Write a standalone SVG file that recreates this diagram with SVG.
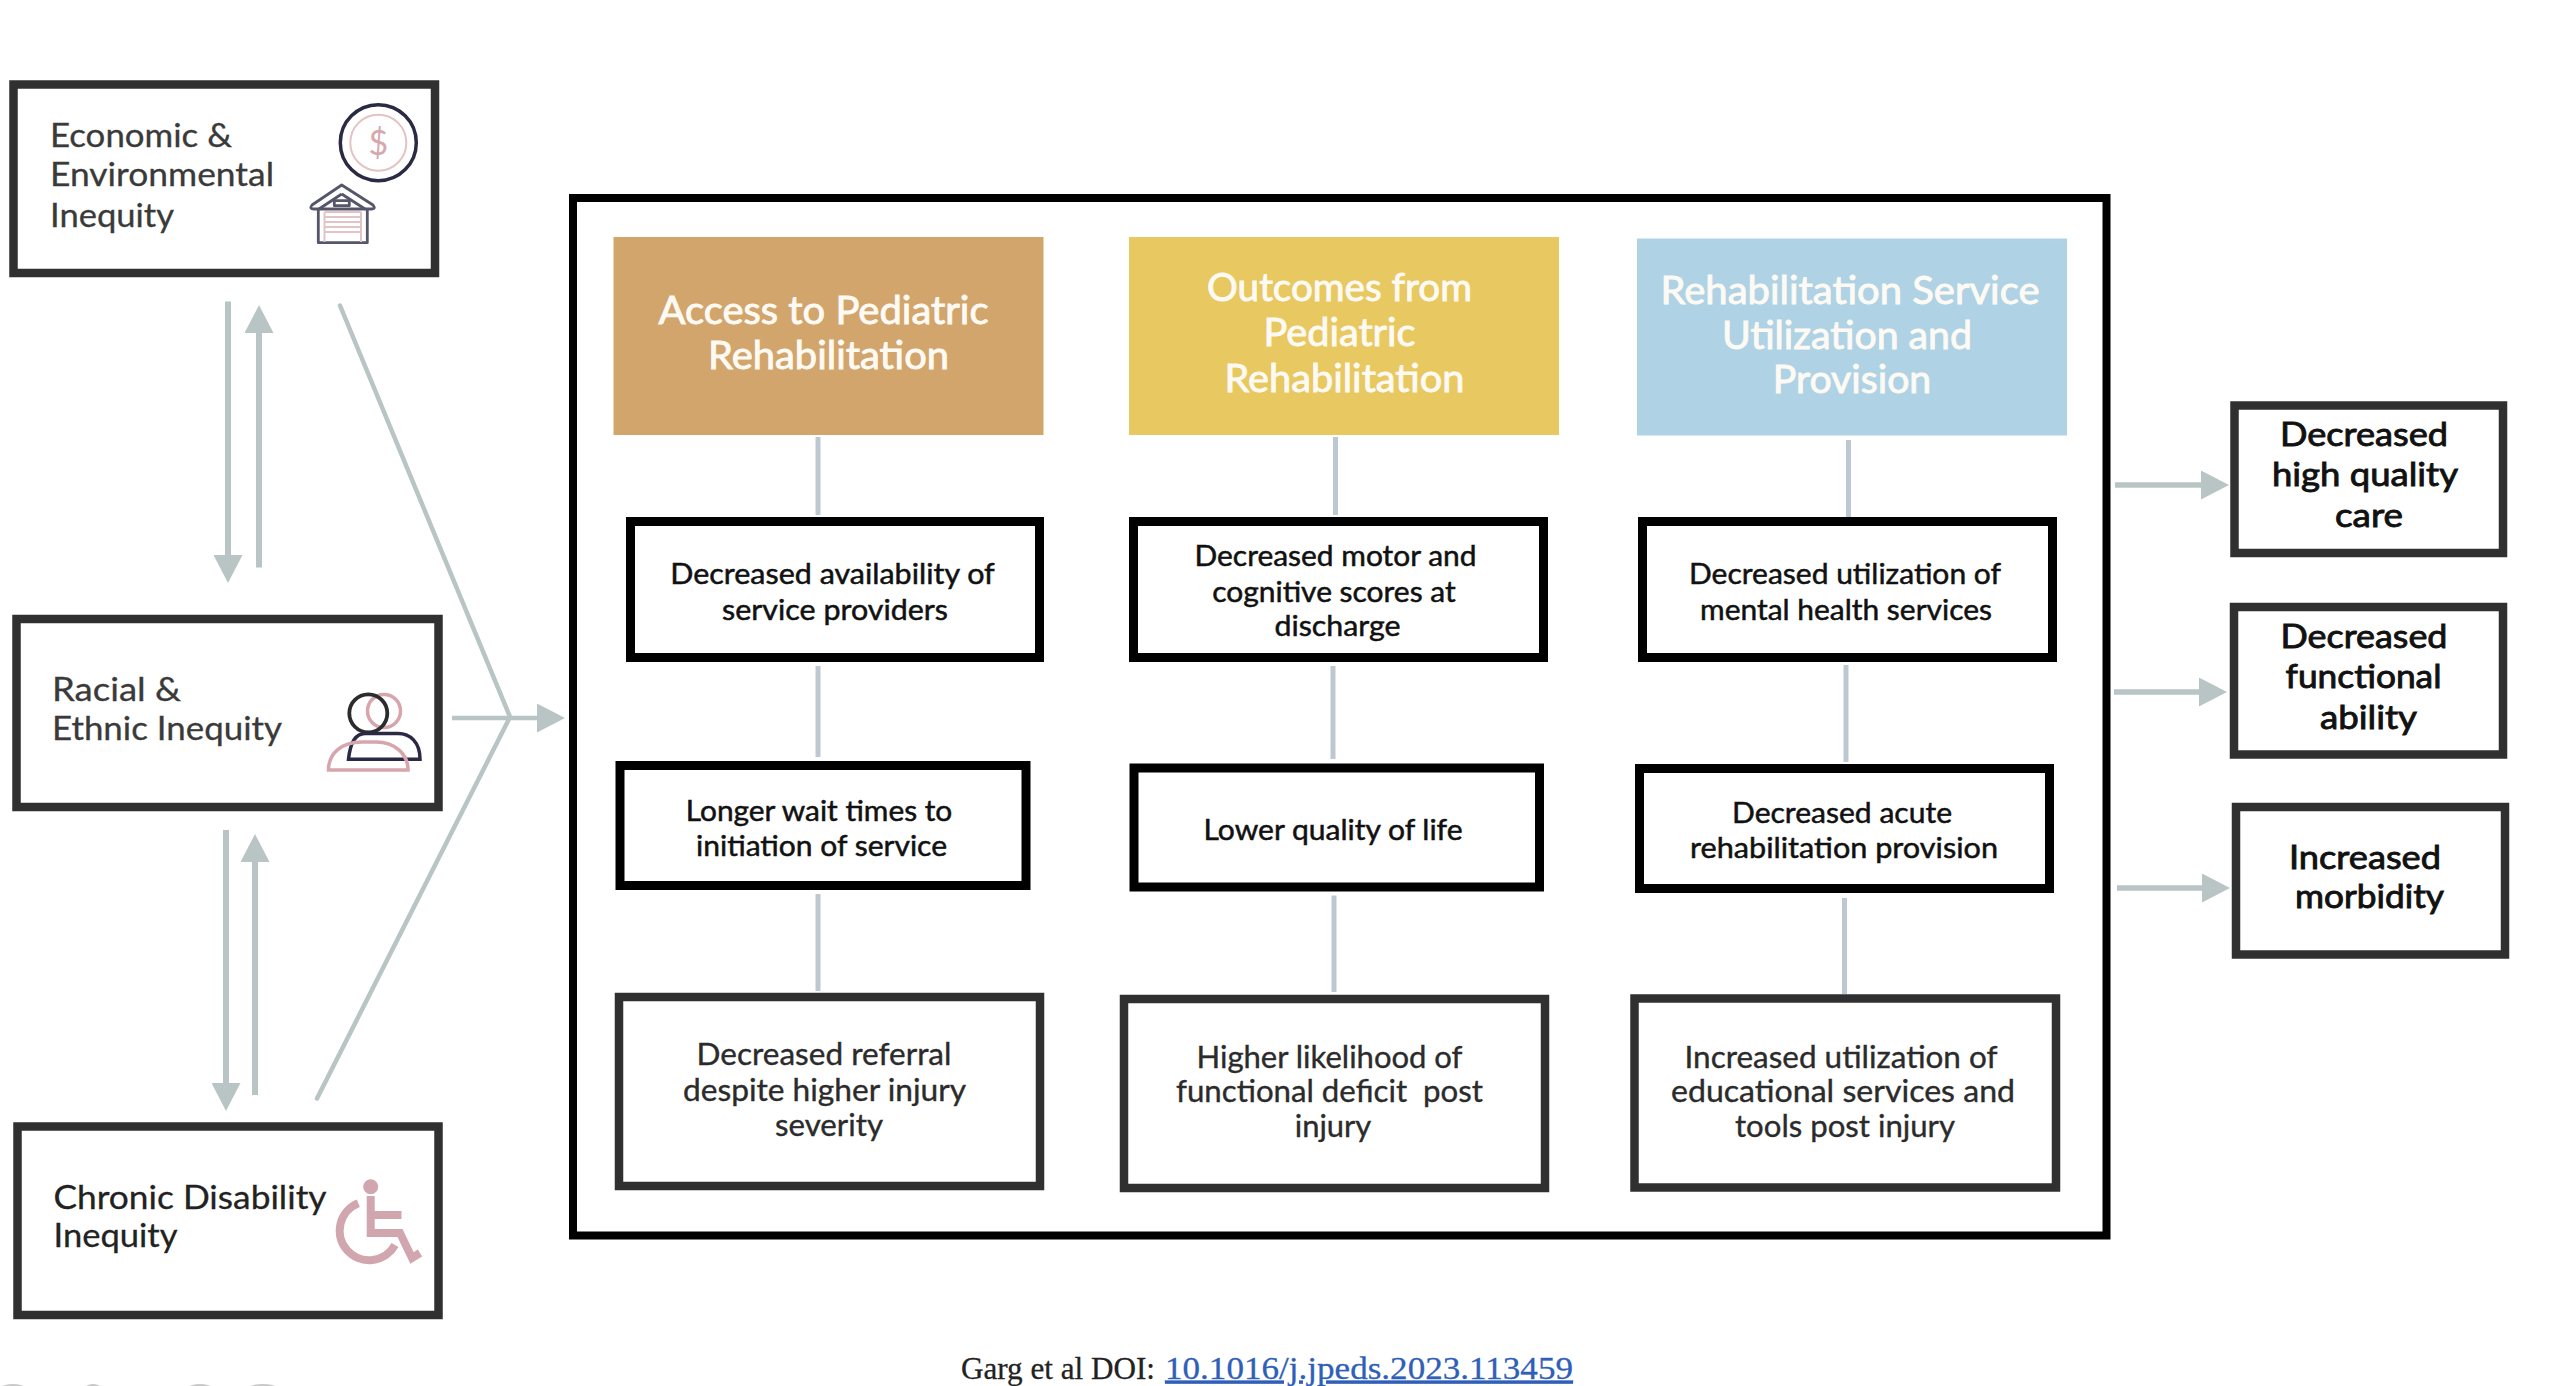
<svg xmlns="http://www.w3.org/2000/svg" width="2554" height="1386" viewBox="0 0 2554 1386">
<style>
text{font-family:"Lato","Liberation Sans",sans-serif;text-anchor:middle}
.bk{fill:#fff;stroke:#000;stroke-width:9}
.dk{fill:#fff;stroke:#303030;stroke-width:8.5}
.hd{font-size:38px;fill:#fdfaf4;stroke:#fdfaf4;stroke-width:.9}
.lf{font-size:33px;fill:#3a3a3a;text-anchor:start;stroke:#3a3a3a;stroke-width:.3}
.bd{font-size:29px;fill:#111;stroke:#111;stroke-width:.5}
.m3{font-size:30px;fill:#2b2b2b;stroke:#2b2b2b;stroke-width:.35}
.rt{font-size:33.5px;fill:#111;stroke:#111;stroke-width:.9}
.ft{font-family:"Liberation Serif","Times New Roman",serif;font-size:32.5px;text-anchor:start;fill:#222;stroke:#222;stroke-width:.3}
.lk{fill:#2f5fb8;stroke:#2f5fb8;text-decoration:underline}
.cn{fill:none;stroke:#bcc8d2;stroke-width:5}
.ar{fill:none;stroke:#b9c4c5;stroke-width:6}
.ar2{fill:none;stroke:#b9c4c5;stroke-width:4.5}
.ar3{fill:none;stroke:#b9c4c5;stroke-width:5.5}
.pk{fill:none;stroke:#d6a5ad;stroke-width:3.5}
.pw{fill:none;stroke:#d2a6ae;stroke-width:8}
.lp{fill:none;stroke:#e3c3c3;stroke-width:2}
.nv{fill:none;stroke:#2a2a45;stroke-width:3.5}
.gy{fill:none;stroke:#55566a;stroke-width:2.8;stroke-linejoin:round}
</style>
<defs>
<marker id="head" markerUnits="userSpaceOnUse" viewBox="0 0 28 29" markerWidth="28" markerHeight="29" refX="0" refY="14.5" orient="auto"><polygon points="0,0 28,14.5 0,29" fill="#b9c4c5"/></marker>
</defs>
<rect width="2554" height="1386" fill="#fff"/>

<g id="connectors">
<line class="ar" x1="228" y1="301.5" x2="228" y2="555" marker-end="url(#head)"/>
<line class="ar" x1="259" y1="567.5" x2="259" y2="333" marker-end="url(#head)"/>
<line class="ar" x1="226" y1="830" x2="226" y2="1083" marker-end="url(#head)"/>
<line class="ar" x1="255" y1="1095" x2="255" y2="862" marker-end="url(#head)"/>
<polyline class="ar2" stroke-linecap="round" points="340,305.5 510,717 317,1098.5"/>
<line class="ar2" x1="452" y1="718" x2="537" y2="718" marker-end="url(#head)"/>
<line class="cn" x1="818" y1="437" x2="818" y2="515"/>
<line class="cn" x1="818" y1="666" x2="818" y2="757"/>
<line class="cn" x1="818" y1="894" x2="818" y2="991"/>
<line class="cn" x1="1335.5" y1="437" x2="1335.5" y2="515"/>
<line class="cn" x1="1333" y1="666" x2="1333" y2="759"/>
<line class="cn" x1="1334" y1="895.5" x2="1334" y2="992"/>
<line class="cn" x1="1848.5" y1="440" x2="1848.5" y2="517"/>
<line class="cn" x1="1846" y1="665" x2="1846" y2="762"/>
<line class="cn" x1="1844.5" y1="898" x2="1844.5" y2="994"/>
<line class="ar3" x1="2115" y1="485" x2="2201" y2="485" marker-end="url(#head)"/>
<line class="ar3" x1="2114" y1="692" x2="2199" y2="692" marker-end="url(#head)"/>
<line class="ar3" x1="2117" y1="888" x2="2202" y2="888" marker-end="url(#head)"/>
</g>

<g id="frame"><rect x="573" y="198" width="1533.5" height="1037.5" fill="none" stroke="#000" stroke-width="8"/></g>

<g id="economic">
<rect class="dk" x="13.5" y="84.5" width="421.5" height="188.5"/>
<text class="lf" x="50" y="147" textLength="182" lengthAdjust="spacingAndGlyphs">Economic &amp;</text>
<text class="lf" x="50" y="186" textLength="224" lengthAdjust="spacingAndGlyphs">Environmental</text>
<text class="lf" x="50" y="226.5" textLength="124" lengthAdjust="spacingAndGlyphs">Inequity</text>
<circle class="nv" cx="378.3" cy="142.7" r="38"/>
<circle class="lp" cx="378.3" cy="142.7" r="28"/>
<text x="378.3" y="155" font-size="34" fill="#d6a8ae">$</text>
<path class="gy" d="M341.7,185 L373,205 Q376,209 372,209 L314,209 Q309,209 312,205 Z"/>
<path class="gy" d="M341.7,194 L319,209"/>
<path class="gy" d="M341.7,194 L365,209"/>
<path class="gy" d="M318.3,210 V242.7 H367.3 V210"/>
<rect class="gy" x="334.3" y="200.7" width="15" height="5"/>
<path class="lp" d="M324.5,212 H361 M324.5,217 H361 M324.5,222 H361 M324.5,227 H361 M324.5,232 H361 M324.5,212 V242 M361,212 V242"/>
</g>

<g id="racial">
<rect class="dk" x="16.5" y="619" width="422" height="188"/>
<text class="lf" x="52" y="701" textLength="129" lengthAdjust="spacingAndGlyphs">Racial &amp;</text>
<text class="lf" x="52" y="740" textLength="230" lengthAdjust="spacingAndGlyphs">Ethnic Inequity</text>
<circle class="pk" cx="384" cy="711" r="16.5"/>
<circle cx="368.3" cy="713.3" r="19" fill="none" stroke="#2c2c2c" stroke-width="3.8"/>
<path class="nv" d="M348.5,759.3 H420 C420,742 410,733.5 398,733.5 H365 C355,733.5 350,745 348.5,759.3 Z"/>
<path class="pk" d="M328.5,770 H408 C408,755 396,742 376,742 H362 C342,742 328.5,753 328.5,770 Z"/>
</g>

<g id="chronic">
<rect class="dk" x="17.5" y="1126.5" width="421" height="188.5"/>
<text class="lf" x="53.5" y="1209" textLength="273" lengthAdjust="spacingAndGlyphs" style="fill:#222;stroke:#222">Chronic Disability</text>
<text class="lf" x="53.5" y="1247" textLength="124" lengthAdjust="spacingAndGlyphs" style="fill:#222;stroke:#222">Inequity</text>
<circle cx="370.7" cy="1186.7" r="7.5" fill="#d2a6ae"/>
<path class="pw" d="M370.7,1196 V1233 H400 L412,1258 L420,1253"/>
<path class="pw" d="M370.7,1215 H401.5"/>
<path class="pw" d="M358.3,1203.3 A29.5,29.5 0 1 0 395,1245"/>
</g>

<g id="head-access">
<rect x="613.5" y="237" width="430" height="198" fill="#d2a56d"/>
<text class="hd" x="823.5" y="324" textLength="330" lengthAdjust="spacingAndGlyphs">Access to Pediatric</text>
<text class="hd" x="828.5" y="369" textLength="241" lengthAdjust="spacingAndGlyphs">Rehabilitation</text>
</g>
<g id="head-outcomes">
<rect x="1129" y="237" width="430" height="198" fill="#e8c860"/>
<text class="hd" x="1339.5" y="301" textLength="265" lengthAdjust="spacingAndGlyphs">Outcomes from</text>
<text class="hd" x="1339.5" y="346" textLength="152" lengthAdjust="spacingAndGlyphs">Pediatric</text>
<text class="hd" x="1344.5" y="391.5" textLength="240" lengthAdjust="spacingAndGlyphs">Rehabilitation</text>
</g>
<g id="head-utilization">
<rect x="1637" y="238.5" width="430" height="197" fill="#afd2e4"/>
<text class="hd" x="1850" y="304" textLength="379" lengthAdjust="spacingAndGlyphs">Rehabilitation Service</text>
<text class="hd" x="1847" y="349" textLength="250" lengthAdjust="spacingAndGlyphs">Utilization and</text>
<text class="hd" x="1852" y="393" textLength="158.5" lengthAdjust="spacingAndGlyphs">Provision</text>
</g>

<g id="c1-availability">
<rect class="bk" x="630.5" y="521.5" width="409" height="136"/>
<text class="bd" x="832.5" y="584" textLength="324.5" lengthAdjust="spacingAndGlyphs">Decreased availability of</text>
<text class="bd" x="835" y="620" textLength="226" lengthAdjust="spacingAndGlyphs">service providers</text>
</g>
<g id="c2-motor">
<rect class="bk" x="1133.5" y="521.5" width="410" height="136"/>
<text class="bd" x="1335.5" y="566" textLength="282" lengthAdjust="spacingAndGlyphs">Decreased motor and</text>
<text class="bd" x="1334" y="601.5" textLength="243.5" lengthAdjust="spacingAndGlyphs">cognitive scores at</text>
<text class="bd" x="1337.5" y="635.5" textLength="126" lengthAdjust="spacingAndGlyphs">discharge</text>
</g>
<g id="c3-mental">
<rect class="bk" x="1642.5" y="521.5" width="410" height="136"/>
<text class="bd" x="1845" y="584" textLength="312" lengthAdjust="spacingAndGlyphs">Decreased utilization of</text>
<text class="bd" x="1846" y="620" textLength="292" lengthAdjust="spacingAndGlyphs">mental health services</text>
</g>
<g id="c1-wait">
<rect class="bk" x="620" y="765.5" width="406" height="120"/>
<text class="bd" x="819" y="820.5" textLength="266.5" lengthAdjust="spacingAndGlyphs">Longer wait times to</text>
<text class="bd" x="821.5" y="856" textLength="251" lengthAdjust="spacingAndGlyphs">initiation of service</text>
</g>
<g id="c2-life">
<rect class="bk" x="1134" y="768" width="405.5" height="119"/>
<text class="bd" x="1333" y="840" textLength="259" lengthAdjust="spacingAndGlyphs">Lower quality of life</text>
</g>
<g id="c3-acute">
<rect class="bk" x="1639.5" y="768.5" width="410" height="120"/>
<text class="bd" x="1842" y="822.5" textLength="220" lengthAdjust="spacingAndGlyphs">Decreased acute</text>
<text class="bd" x="1844" y="858" textLength="308" lengthAdjust="spacingAndGlyphs">rehabilitation provision</text>
</g>
<g id="c1-referral">
<rect class="dk" x="619" y="997" width="421" height="189"/>
<text class="m3" x="824" y="1065" textLength="255" lengthAdjust="spacingAndGlyphs">Decreased referral</text>
<text class="m3" x="824.5" y="1100.5" textLength="283" lengthAdjust="spacingAndGlyphs">despite higher injury</text>
<text class="m3" x="829" y="1136" textLength="108" lengthAdjust="spacingAndGlyphs">severity</text>
</g>
<g id="c2-deficit">
<rect class="dk" x="1124" y="999" width="421" height="189"/>
<text class="m3" x="1329.5" y="1067.5" textLength="266" lengthAdjust="spacingAndGlyphs">Higher likelihood of</text>
<text class="m3" x="1329.5" y="1102" textLength="307" lengthAdjust="spacingAndGlyphs">functional deficit&#160; post</text>
<text class="m3" x="1333" y="1137" textLength="76.5" lengthAdjust="spacingAndGlyphs">injury</text>
</g>
<g id="c3-educational">
<rect class="dk" x="1634.5" y="998.5" width="421.5" height="189"/>
<text class="m3" x="1841" y="1067.5" textLength="313" lengthAdjust="spacingAndGlyphs">Increased utilization of</text>
<text class="m3" x="1843" y="1102" textLength="344" lengthAdjust="spacingAndGlyphs">educational services and</text>
<text class="m3" x="1845" y="1137" textLength="220" lengthAdjust="spacingAndGlyphs">tools post injury</text>
</g>

<g id="out-care">
<rect class="dk" x="2234.5" y="405.5" width="268.5" height="147.5"/>
<text class="rt" x="2364" y="446" textLength="168" lengthAdjust="spacingAndGlyphs">Decreased</text>
<text class="rt" x="2365" y="486" textLength="186" lengthAdjust="spacingAndGlyphs">high quality</text>
<text class="rt" x="2369" y="527" textLength="68" lengthAdjust="spacingAndGlyphs">care</text>
</g>
<g id="out-ability">
<rect class="dk" x="2234" y="607" width="269" height="147.5"/>
<text class="rt" x="2364" y="648" textLength="167" lengthAdjust="spacingAndGlyphs">Decreased</text>
<text class="rt" x="2363.5" y="687.5" textLength="156" lengthAdjust="spacingAndGlyphs">functional</text>
<text class="rt" x="2368.5" y="728.5" textLength="97" lengthAdjust="spacingAndGlyphs">ability</text>
</g>
<g id="out-morbidity">
<rect class="dk" x="2236" y="807" width="269" height="147.5"/>
<text class="rt" x="2365" y="869" textLength="152" lengthAdjust="spacingAndGlyphs">Increased</text>
<text class="rt" x="2369.5" y="908" textLength="149" lengthAdjust="spacingAndGlyphs">morbidity</text>
</g>

<g id="citation">
<text class="ft" x="961" y="1378.5" textLength="194" lengthAdjust="spacingAndGlyphs">Garg et al DOI:</text>
<text class="ft lk" x="1165" y="1378.5" textLength="408" lengthAdjust="spacingAndGlyphs">10.1016/j.jpeds.2023.113459</text>
</g>

<g id="edge-marks" fill="#c9c9c9">
<ellipse cx="13" cy="1387" rx="11" ry="3"/>
<ellipse cx="93" cy="1387" rx="7" ry="3"/>
<ellipse cx="200" cy="1387" rx="11" ry="3"/>
<ellipse cx="263" cy="1387" rx="13" ry="3"/>
</g>
</svg>
